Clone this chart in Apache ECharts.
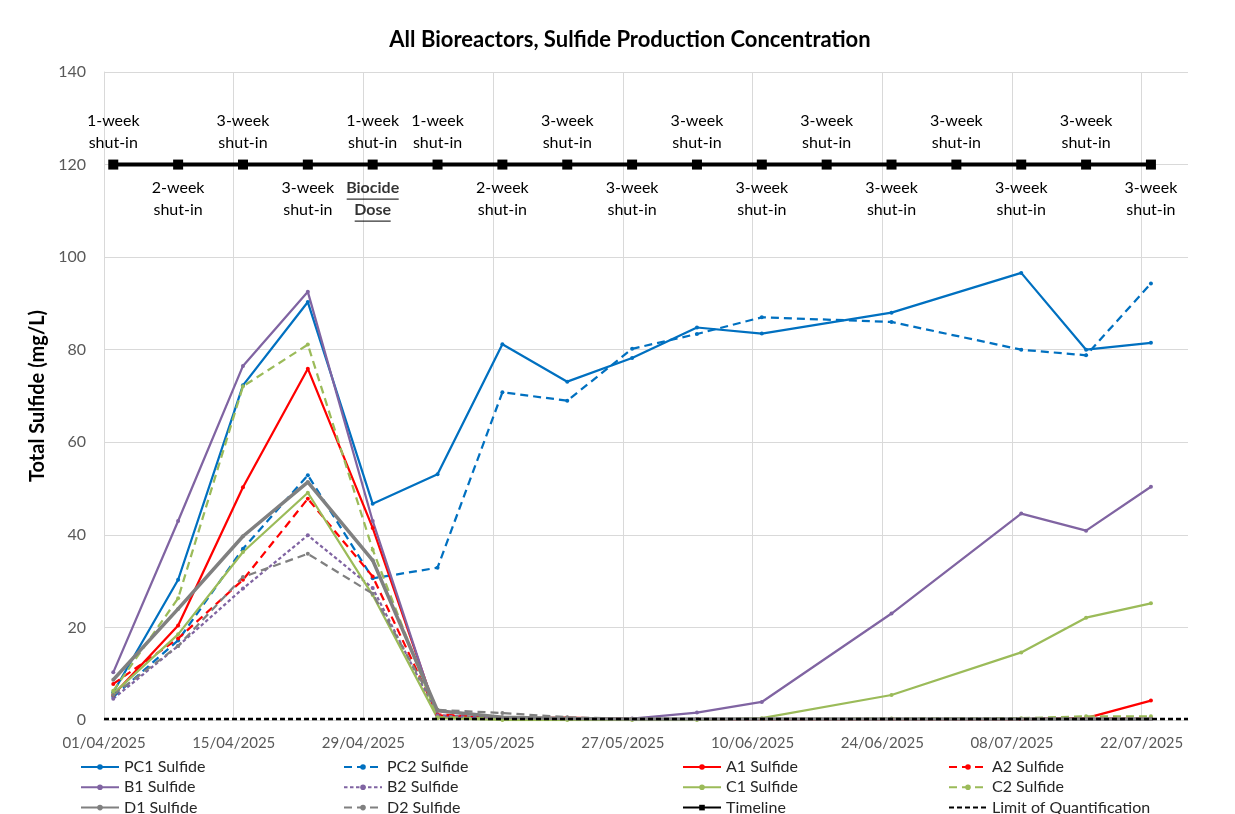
<!DOCTYPE html>
<html>
<head>
<meta charset="utf-8">
<title>All Bioreactors, Sulfide Production Concentration</title>
<script src="https://cdn.jsdelivr.net/npm/echarts@6/dist/echarts.min.js"></script>
<style>
  html, body { margin: 0; padding: 0; background: #ffffff; }
  #chart { width: 1235px; height: 814px; }
</style>
</head>
<body>
<div id="chart"></div>
<script>
// ---- Sampling dates and measured total sulfide (mg/L) per bioreactor ----
const sampleDates = ['02/04/2025', '09/04/2025', '16/04/2025', '23/04/2025', '30/04/2025',
  '07/05/2025', '14/05/2025', '21/05/2025', '28/05/2025', '04/06/2025', '11/06/2025',
  '25/06/2025', '09/07/2025', '16/07/2025', '23/07/2025'];

const pc1 = [6.0, 30.3, 72.3, 90.3, 46.7, 53.1, 81.2, 73.1, 78.2, 84.8, 83.5, 88.0, 96.6, 80.0, 81.5];
const pc2 = [5.0, 17.2, 37.0, 52.9, 30.6, 32.9, 70.8, 69.0, 80.2, 83.4, 87.0, 86.0, 80.0, 78.8, 94.3];
const a1  = [5.4, 20.4, 50.3, 75.9, 41.5, 1.0, 0.3, 0.5, 0.2, 0.2, 0.2, 0.2, 0.2, 0.4, 4.2];
const a2  = [7.8, 17.6, 30.3, 47.8, 31.0, 1.2, 0.4, 0.3, 0.2, 0.2, 0.2, 0.2, 0.2, 0.3, 0.3];
const b1  = [10.3, 43.0, 76.5, 92.5, 43.0, 0.6, 0.2, 0.2, 0.3, 1.6, 3.9, 23.0, 44.6, 40.9, 50.4];
const b2  = [4.6, 16.0, 28.4, 39.9, 28.5, 1.0, 0.4, 0.2, 0.2, 0.2, 0.2, 0.2, 0.2, 0.2, 0.2];
const c1  = [5.7, 18.5, 36.3, 49.1, 27.0, 0.4, 0.0, 0.0, 0.0, 0.0, 0.4, 5.4, 14.6, 22.1, 25.2];
const c2  = [6.3, 26.3, 72.1, 81.1, 36.8, 0.6, 0.3, 0.2, 0.2, 0.2, 0.2, 0.3, 0.4, 0.8, 0.8];
const d1  = [8.7, 24.0, 39.7, 51.4, 34.5, 2.0, 0.6, 0.3, 0.2, 0.2, 0.2, 0.2, 0.2, 0.2, 0.2];
const d2  = [5.4, 16.0, 30.9, 35.9, 27.3, 2.2, 1.5, 0.6, 0.2, 0.2, 0.2, 0.2, 0.2, 0.2, 0.2];

// ---- Shut-in timeline (drawn as a band at a fixed level) ----
const timelineLevel = 120;
const timelineDates = ['02/04/2025', '09/04/2025', '16/04/2025', '23/04/2025', '30/04/2025',
  '07/05/2025', '14/05/2025', '21/05/2025', '28/05/2025', '04/06/2025', '11/06/2025',
  '18/06/2025', '25/06/2025', '02/07/2025', '09/07/2025', '16/07/2025', '23/07/2025'];
const timelineText = ['1-week\nshut-in', '2-week\nshut-in', '3-week\nshut-in', '3-week\nshut-in',
  '1-week\nshut-in', '1-week\nshut-in', '2-week\nshut-in', '3-week\nshut-in', '3-week\nshut-in',
  '3-week\nshut-in', '3-week\nshut-in', '3-week\nshut-in', '3-week\nshut-in', '3-week\nshut-in',
  '3-week\nshut-in', '3-week\nshut-in', '3-week\nshut-in'];
const timelineSide = ['top', 'bottom', 'top', 'bottom', 'top', 'top', 'bottom', 'top', 'bottom',
  'top', 'bottom', 'top', 'bottom', 'top', 'bottom', 'top', 'bottom'];
const biocideDate = '30/04/2025';
const biocideWords = ['Biocide', 'Dose'];

// ---- Limit of quantification and axis range ----
const loqValue = 0.2;
const axisStart = '01/04/2025';
const axisEnd = '27/07/2025';
const tickDays = 14;
const yMin = 0, yMax = 140, yStep = 20;

// ---- Helpers: dates <-> day offsets from the axis start ----
const DAY = 86400000;
function parseDate(s) {
  const [d, m, y] = s.split('/').map(Number);
  return Date.UTC(y, m - 1, d);
}
const originMs = parseDate(axisStart);
function toDay(s) { return Math.round((parseDate(s) - originMs) / DAY); }
function fromDay(v) {
  const dt = new Date(originMs + Math.round(v) * DAY);
  const dd = String(dt.getUTCDate()).padStart(2, '0');
  const mm = String(dt.getUTCMonth() + 1).padStart(2, '0');
  return dd + '/' + mm + '/' + dt.getUTCFullYear();
}

const FONT = 'Lato, "Open Sans", "Liberation Sans", sans-serif';

// ---- Series appearance ----
const sulfideSeries = [
  { name: 'PC1 Sulfide', values: pc1, color: '#0070C0', dash: 'solid', width: 2.25 },
  { name: 'PC2 Sulfide', values: pc2, color: '#0070C0', dash: [8, 5], width: 2.25 },
  { name: 'A1 Sulfide',  values: a1,  color: '#FF0000', dash: 'solid', width: 2.25 },
  { name: 'A2 Sulfide',  values: a2,  color: '#FF0000', dash: [8, 5], width: 2.25 },
  { name: 'B1 Sulfide',  values: b1,  color: '#8064A2', dash: 'solid', width: 2.25 },
  { name: 'B2 Sulfide',  values: b2,  color: '#8064A2', dash: [3.5, 2.5], width: 2.25 },
  { name: 'C1 Sulfide',  values: c1,  color: '#9BBB59', dash: 'solid', width: 2.25 },
  { name: 'C2 Sulfide',  values: c2,  color: '#9BBB59', dash: [8, 5], width: 2.25 },
  { name: 'D1 Sulfide',  values: d1,  color: '#808080', dash: 'solid', width: 3.5 },
  { name: 'D2 Sulfide',  values: d2,  color: '#808080', dash: [8, 5], width: 2.25 }
];

const series = sulfideSeries.map(s => ({
  name: s.name,
  type: 'line',
  data: sampleDates.map((d, i) => [toDay(d), s.values[i]]),
  symbol: 'circle',
  symbolSize: 4,
  showAllSymbol: true,
  color: s.color,
  itemStyle: { color: s.color },
  lineStyle: { color: s.color, width: s.width, type: s.dash },
  emphasis: { disabled: true },
  animation: false
}));

series.push({
  name: 'Timeline',
  type: 'line',
  data: timelineDates.map((d, i) => ({
    value: [toDay(d), timelineLevel],
    label: {
      show: true,
      position: timelineSide[i],
      distance: timelineSide[i] === 'top' ? 6 : 8,
      formatter: timelineText[i]
    }
  })),
  symbol: 'rect',
  symbolSize: 10,
  color: '#000000',
  itemStyle: { color: '#000000' },
  lineStyle: { color: '#000000', width: 4 },
  label: { color: '#000000', fontFamily: FONT, fontSize: 16, lineHeight: 21.5, align: 'center' },
  emphasis: { disabled: true },
  animation: false,
  z: 3
});

series.push({
  name: 'Biocide Dose',
  type: 'scatter',
  data: [[toDay(biocideDate), timelineLevel]],
  symbolSize: 1,
  itemStyle: { color: 'rgba(0,0,0,0)' },
  label: {
    show: true,
    position: 'bottom',
    distance: 13,
    formatter: '{b|' + biocideWords[0] + '}\n{u1|\u00a0}\n{b|' + biocideWords[1] + '}\n{u2|\u00a0}',
    rich: {
      b: { fontFamily: FONT, fontSize: 16, fontWeight: 'bold', color: '#000000', lineHeight: 20, align: 'center' },
      u1: { width: 52, height: 1.3, lineHeight: 2, fontSize: 1, backgroundColor: '#000000', align: 'center' },
      u2: { width: 36, height: 1.3, lineHeight: 2, fontSize: 1, backgroundColor: '#000000', align: 'center' }
    }
  },
  emphasis: { disabled: true },
  animation: false,
  z: 3
});

series.push({
  name: 'Limit of Quantification',
  type: 'line',
  data: [[toDay(axisStart), loqValue], [toDay(axisEnd), loqValue]],
  symbol: 'none',
  color: '#000000',
  lineStyle: { color: '#000000', width: 2.5, type: [5, 3] },
  emphasis: { disabled: true },
  animation: false,
  z: 4
});

// ---- Legend, laid out as four columns ----
const legendColumns = [
  ['PC1 Sulfide', 'B1 Sulfide', 'D1 Sulfide'],
  ['PC2 Sulfide', 'B2 Sulfide', 'D2 Sulfide'],
  ['A1 Sulfide', 'C1 Sulfide', 'Timeline'],
  ['A2 Sulfide', 'C2 Sulfide', 'Limit of Quantification']
];
const legendLeft = [80, 343, 682, 948];
const legends = legendColumns.map((col, i) => ({
  orient: 'vertical',
  left: legendLeft[i],
  top: 759,
  width: 280,
  height: 120,
  itemWidth: 38,
  itemHeight: 7,
  itemGap: 4.3,
  padding: 0,
  selectedMode: false,
  textStyle: { fontFamily: FONT, fontSize: 16, color: '#262626', lineHeight: 14 },
  data: col.map(n => n === 'Limit of Quantification'
    ? { name: n, itemStyle: { opacity: 0 } }
    : n)
}));

const chart = echarts.init(document.getElementById('chart'), null, { renderer: 'canvas' });
chart.setOption({
  backgroundColor: '#ffffff',
  animation: false,
  title: {
    text: 'All Bioreactors, Sulfide Production Concentration',
    left: 625,
    textAlign: 'center',
    top: 24,
    textStyle: { fontFamily: FONT, fontSize: 22, fontWeight: 'bold', color: '#000000' }
  },
  legend: legends,
  grid: { left: 104, right: 47, top: 72, bottom: 94, containLabel: false },
  xAxis: {
    type: 'value',
    min: toDay(axisStart),
    max: toDay(axisEnd),
    interval: tickDays,
    axisLine: { show: true, lineStyle: { color: '#d9d9d9', width: 1 } },
    axisTick: { show: false },
    axisLabel: {
      formatter: v => fromDay(v),
      showMaxLabel: false,
      color: '#595959',
      fontFamily: FONT,
      fontSize: 15,
      margin: 16
    },
    splitLine: { show: true, showMaxLine: false, lineStyle: { color: '#d9d9d9', width: 1 } }
  },
  yAxis: {
    type: 'value',
    min: yMin,
    max: yMax,
    interval: yStep,
    name: 'Total Sulfide (mg/L)',
    nameLocation: 'middle',
    nameGap: 52,
    nameTextStyle: { fontFamily: FONT, fontSize: 20, fontWeight: 'bold', color: '#000000' },
    axisLine: { show: true, lineStyle: { color: '#d9d9d9', width: 1 } },
    axisTick: { show: false },
    axisLabel: { color: '#595959', fontFamily: FONT, fontSize: 16, margin: 18 },
    splitLine: { show: true, lineStyle: { color: '#d9d9d9', width: 1 } }
  },
  series: series
});
</script>
</body>
</html>
